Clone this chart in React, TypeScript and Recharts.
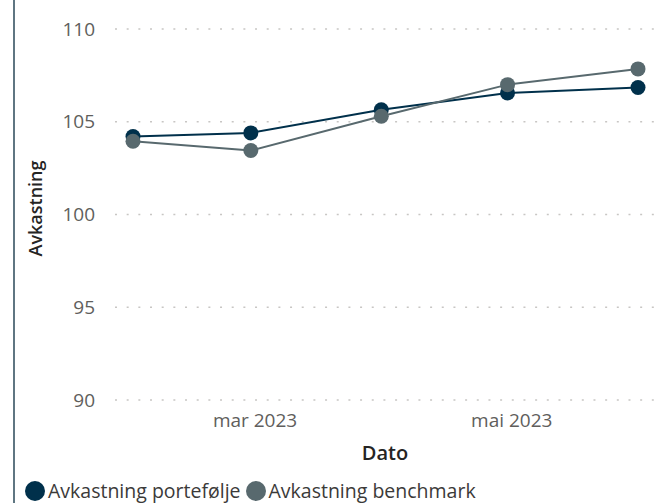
import React from 'react';
import { LineChart, Line, XAxis, YAxis, CartesianGrid, Legend } from 'recharts';

const dates = [Date.UTC(2023, 0, 31), Date.UTC(2023, 1, 28), Date.UTC(2023, 2, 31), Date.UTC(2023, 3, 30), Date.UTC(2023, 4, 31)];
const portfolio = [104.2, 104.4, 105.65, 106.55, 106.85];
const benchmark = [103.95, 103.45, 105.3, 107.0, 107.85];
const xTicks = [Date.UTC(2023, 2, 1), Date.UTC(2023, 4, 1)];
const yTicks = [90, 95, 100, 105, 110];
const monthNames = ['jan', 'feb', 'mar', 'apr', 'mai', 'jun', 'jul', 'aug', 'sep', 'okt', 'nov', 'des'];
const seriesNames = ['Avkastning portefølje', 'Avkastning benchmark'];
const colors = ['#00304B', '#58696E'];

const data = dates.map((d, i) => ({ date: d, p: portfolio[i], b: benchmark[i] }));

const FONT = '"Open Sans", "Noto Sans", sans-serif';

const fmtDate = (v: number) => {
  const d = new Date(v);
  return `${monthNames[d.getUTCMonth()]} ${d.getUTCFullYear()}`;
};

const LegendContent = () => (
  <div style={{ display: 'flex', alignItems: 'center', fontFamily: FONT, fontSize: 19.5, lineHeight: '26px', color: '#3B3A39', whiteSpace: 'nowrap' }}>
    {seriesNames.map((n, i) => (
      <div key={n} style={{ display: 'flex', alignItems: 'center', marginRight: 5 }}>
        <div style={{ width: 20, height: 20, borderRadius: '50%', background: colors[i], marginRight: 3 }} />
        <span>{n}</span>
      </div>
    ))}
  </div>
);

const YLabel = (props: any) => {
  const { viewBox } = props;
  const cy = viewBox ? viewBox.y + viewBox.height / 2 : 214;
  return (
    <text x={35} y={cy - 6} transform={`rotate(-90, 35, ${cy - 6})`} textAnchor="middle" dominantBaseline="central"
      fontFamily={FONT} fontSize={18} fontWeight={600} fill="#252423">Avkastning</text>
  );
};

const XLabel = (props: any) => {
  const { viewBox } = props;
  const cx = viewBox ? viewBox.x + viewBox.width / 2 : 385;
  return (
    <text x={cx} y={452} textAnchor="middle" dominantBaseline="central"
      fontFamily={FONT} fontSize={20} fontWeight={600} fill="#252423">Dato</text>
  );
};

export default function App() {
  return (
    <div style={{ position: 'absolute', left: 0, top: 0, width: 665, height: 503, overflow: 'hidden', background: '#fff' }}>
      <div style={{ position: 'absolute', left: 13, top: 0, width: 2, height: 503, background: '#5F7682' }} />
      <LineChart width={665} height={503} data={data} margin={{ top: 29, right: 10, bottom: 0, left: 0 }}>
        <CartesianGrid vertical={false} stroke="#C8C6C4" strokeWidth={1.5} strokeDasharray="2 9.67" />
        <XAxis
          dataKey="date"
          type="number"
          scale="time"
          domain={['dataMin', 'dataMax']}
          padding={{ left: 18, right: 17 }}
          ticks={xTicks}
          tickFormatter={fmtDate}
          axisLine={false}
          tickLine={false}
          tickMargin={8}
          height={103}
          tick={{ fontFamily: FONT, fontSize: 19, fill: '#605E5C' }}
          label={<XLabel />}
        />
        <YAxis
          domain={[90, 110]}
          ticks={yTicks}
          width={115}
          axisLine={false}
          tickLine={false}
          tickMargin={14}
          tick={{ fontFamily: FONT, fontSize: 19, fill: '#605E5C' }}
          label={<YLabel />}
        />
        <Legend
          content={<LegendContent />}
          wrapperStyle={{ position: 'absolute', left: 25, top: 478, width: 640, height: 0, overflow: 'visible' }}
        />
        <Line dataKey="p" name={seriesNames[0]} stroke={colors[0]} strokeWidth={2}
          dot={{ r: 7.5, fill: colors[0], stroke: colors[0], strokeWidth: 0 }} activeDot={false} isAnimationActive={false} />
        <Line dataKey="b" name={seriesNames[1]} stroke={colors[1]} strokeWidth={2}
          dot={{ r: 7.5, fill: colors[1], stroke: colors[1], strokeWidth: 0 }} activeDot={false} isAnimationActive={false} />
      </LineChart>
    </div>
  );
}
